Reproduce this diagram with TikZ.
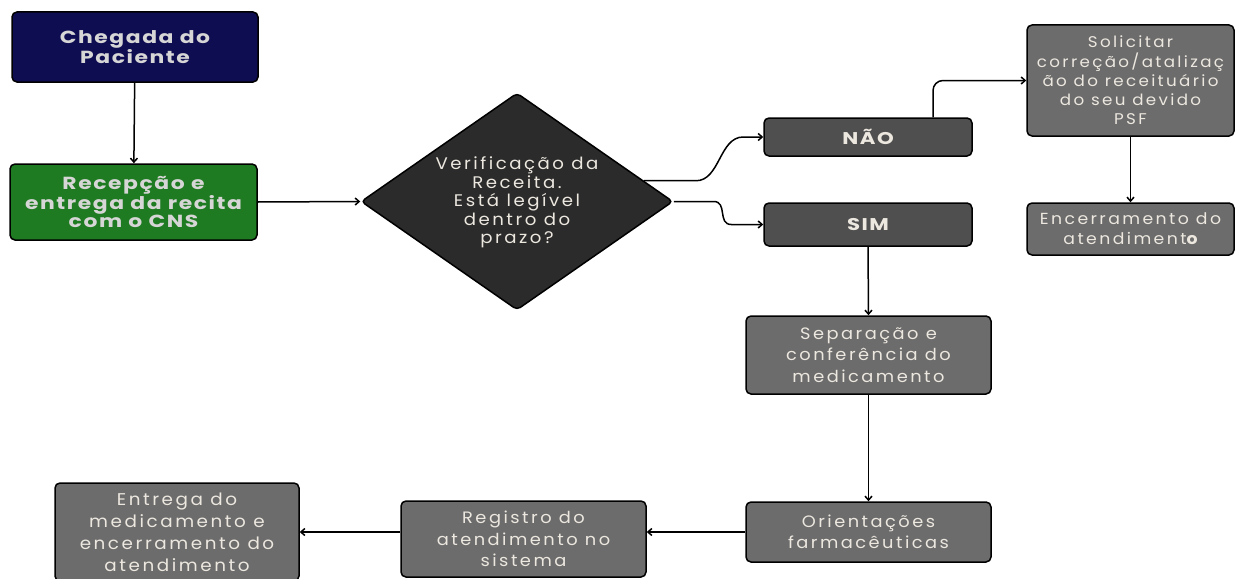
\documentclass[tikz,border=0pt]{standalone}
\usepackage{fontspec}
\setmainfont{Poppins}[LetterSpace=15, FakeStretch=1.08]
\newfontfamily\headfont{Poppins}[LetterSpace=9, FakeStretch=1.25]
\usetikzlibrary{shapes.geometric,arrows.meta,calc}

\definecolor{navy}{HTML}{0F0D52}
\definecolor{leafgreen}{HTML}{1F7B22}
\definecolor{diafill}{HTML}{2B2B2B}
\definecolor{darkbox}{HTML}{4F4F4F}
\definecolor{graybox}{HTML}{6C6C6C}
\definecolor{lighttxt}{HTML}{ECE7DF}
\definecolor{headtxt}{HTML}{D6D6D6}

\begin{document}
\begin{tikzpicture}[x=1pt,y=-1pt,
  box/.style={draw=black, line width=1.5pt, rounded corners=5pt, align=center,
    inner sep=0pt, fill=graybox, text=lighttxt,
    font=\fontsize{16.5}{21.5}\selectfont},
  head/.style={box, text=headtxt, font=\headfont\bfseries\fontsize{17.5}{18.5}\selectfont},
  answer/.style={box, fill=darkbox, font=\headfont\bfseries\fontsize{17}{18}\selectfont,
    minimum width=208pt},
  arr/.style={-{Straight Barb[length=4pt,width=7pt]}, line width=1.5pt},
]
\useasboundingbox (0,0) rectangle (1246,578);
\fill[white] (0,0) rectangle (1246,578);

% left column
\node[head, fill=navy, minimum width=246pt, minimum height=70pt] (arrive) at (135,47)
  {Chegada do\\Paciente};
\node[head, fill=leafgreen, minimum width=247pt, minimum height=76pt] (reception) at (133.5,202)
  {Recepção e\\entrega da recita\\com o CNS};

% decision
\node[shape=diamond, draw=black, line width=1.5pt, fill=diafill, rounded corners=4pt,
  inner sep=0pt, minimum width=312pt, minimum height=217pt] (check) at (517,201.5) {};
\node[align=center, text=lighttxt, font=\fontsize{16.8}{18.5}\selectfont] (checktxt) at (517,202.5)
  {Verificação da\\Receita.\\Está legível\\dentro do\\prazo?};

% answers
\node[answer, minimum height=38pt] (no) at (868,137) {NÃO};
\node[answer, minimum height=43pt] (yes) at (868,224.5) {SIM};

% negative branch
\node[box, minimum width=207pt, minimum height=111pt, font=\fontsize{15.5}{19.3}\selectfont] (fix) at (1130.5,80.5)
  {Solicitar\\correção/atalizaç\\ão do receituário\\do seu devido\\PSF};
\node[box, minimum width=207pt, minimum height=52pt, font=\fontsize{16}{20}\selectfont] (closeA) at (1130.5,229)
  {Encerramento do\\atendiment{\bfseries o}};

% positive branch
\node[box, minimum width=245pt, minimum height=78pt] (separate) at (868.5,355)
  {Separação e\\conferência do\\medicamento};
\node[box, minimum width=245pt, minimum height=60pt] (guide) at (868.5,532)
  {Orientações\\farmacêuticas};
\node[box, minimum width=245pt, minimum height=76pt] (record) at (523.5,539)
  {Registro do\\atendimento no\\sistema};
\node[box, minimum width=244pt, minimum height=98pt, font=\fontsize{17}{22}\selectfont] (deliver) at (177,532)
  {Entrega do\\medicamento e\\encerramento do\\atendimento};

% connectors
\draw[arr] (arrive) -- (reception);
\draw[arr] (reception.east) -- (check.west);
\coordinate (noStart) at ($(check.north)!0.81!(check.east)$);
\draw[arr] (noStart) -- ++(52,0) .. controls +(24,0) and +(-24,0) .. ([xshift=-20pt]no.west) -- (no.west);
\draw[arr] (check.east) -- ++(40,0) .. controls +(14,0) and +(-14,0) .. ([xshift=-32pt]yes.west) -- (yes.west);
\draw[arr, rounded corners=10pt] ([xshift=65pt]no.north) |- (fix.west);
\draw[arr] (fix.south) -- (closeA.north);
\draw[arr] (yes.south) -- (separate.north);
\draw[arr] (separate.south) -- (guide.north);
\draw[arr] (guide.west) -- (guide.west -| record.east);
\draw[arr] (record.west |- guide.west) -- (deliver.east |- guide.west);
\end{tikzpicture}
\end{document}
